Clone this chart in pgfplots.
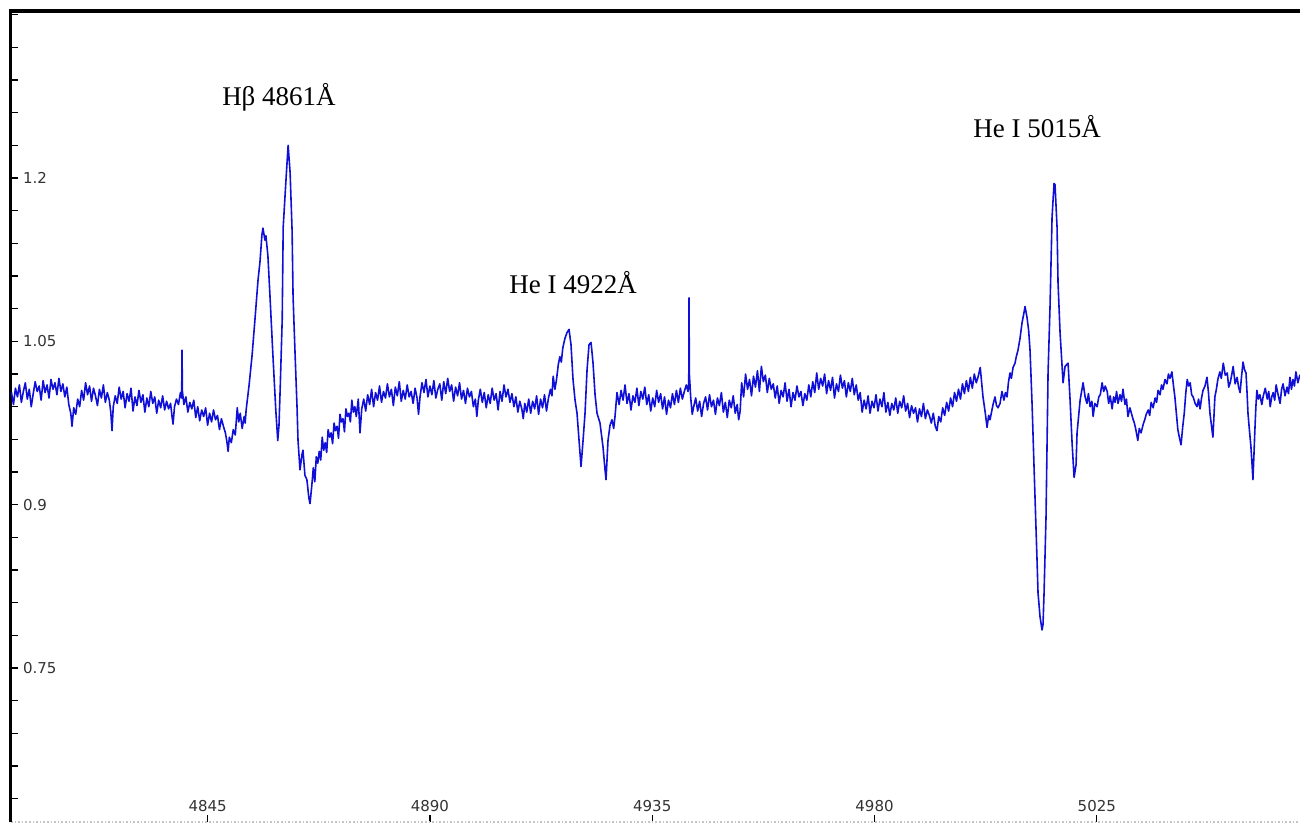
\documentclass[border=0pt]{standalone}
\usepackage{fontspec}
\setmainfont{DejaVu Sans}
\newfontfamily\annfont{Liberation Serif}
\usepackage{pgfplots}
\pgfplotsset{compat=1.18}
\definecolor{specblue}{RGB}{15,15,215}
\begin{document}
\begin{tikzpicture}
\begin{axis}[
  at={(5.5pt,1.5pt)}, anchor=south west,
  width=650pt, height=405.5pt, scale only axis,
  xmin=4805.2, xmax=5068.36, ymin=0.6086, ymax=1.3534,
  axis x line=bottom, axis y line=left,
  x axis line style={-, draw=gray!45, densely dotted, line width=0.8pt},
  y axis line style={-, draw=black, line width=1.5pt},
  tick align=inside,
  major tick length=3.5pt, minor tick length=3.5pt,
  tick style={black, line width=0.6pt},
  xtick={4845,4890,4935,4980,5025},
  xticklabels={4845,4890,4935,4980,5025},
  ytick={0.75,0.9,1.05,1.2},
  yticklabels={0.75,0.9,1.05,1.2},
  minor ytick={0.63,0.66,0.69,0.72,0.78,0.81,0.84,0.87,0.93,0.96,0.99,1.02,1.08,1.11,1.14,1.17,1.23,1.26,1.29,1.32,1.35},
  ticklabel style={font=\fontsize{7.5}{9}\selectfont, text=black!80},
  yticklabel style={anchor=west, xshift=2.5pt},
  xticklabel style={anchor=south, yshift=1.5pt},
  /pgf/number format/assume math mode=true,
  clip=false,
]
\addplot[specblue, line width=0.8pt, line join=round] table[row sep=\\] {
x y\\
4805.3 1.003\\ 4805.7 0.992\\ 4806.1 1.007\\ 4806.5 0.999\\ 4806.9 1.010\\ 4807.3 0.994\\
4807.7 1.004\\ 4808.1 1.012\\ 4808.5 0.997\\ 4808.9 1.006\\ 4809.3 0.990\\ 4809.7 1.002\\
4810.1 1.013\\ 4810.5 1.004\\ 4810.9 1.009\\ 4811.3 0.996\\ 4811.7 1.014\\ 4812.1 1.003\\
4812.5 1.010\\ 4812.9 0.998\\ 4813.3 1.015\\ 4813.7 1.006\\ 4814.1 1.012\\ 4814.5 1.001\\
4814.9 1.016\\ 4815.3 1.004\\ 4815.7 1.011\\ 4816.1 0.999\\ 4816.5 1.008\\ 4816.9 0.992\\
4817.3 0.984\\ 4817.55 0.972\\ 4817.9 0.989\\ 4818.3 0.983\\ 4818.7 0.997\\ 4819.1 0.990\\
4819.5 1.005\\ 4819.9 0.996\\ 4820.3 1.012\\ 4820.7 1.001\\ 4821.1 1.009\\ 4821.5 0.995\\
4821.9 1.007\\ 4822.3 1.000\\ 4822.7 0.991\\ 4823.1 1.006\\ 4823.5 0.998\\ 4823.9 1.010\\
4824.3 0.994\\ 4824.7 1.003\\ 4825.1 0.996\\ 4825.4 0.985\\ 4825.65 0.968\\ 4825.9 0.990\\
4826.3 1.000\\ 4826.7 0.993\\ 4827.1 1.008\\ 4827.5 0.997\\ 4827.9 1.004\\ 4828.3 0.989\\
4828.7 1.002\\ 4829.1 0.995\\ 4829.5 1.007\\ 4829.9 0.986\\ 4830.3 0.999\\ 4830.7 0.991\\
4831.1 1.005\\ 4831.5 0.994\\ 4831.9 1.001\\ 4832.3 0.985\\ 4832.7 0.998\\ 4833.1 0.990\\
4833.5 1.004\\ 4833.9 0.993\\ 4834.3 0.999\\ 4834.7 0.984\\ 4835.1 0.996\\ 4835.5 0.989\\
4835.9 1.000\\ 4836.3 0.987\\ 4836.7 0.995\\ 4837.1 0.988\\ 4837.5 0.993\\ 4837.8 0.981\\
4838.0 0.974\\ 4838.3 0.990\\ 4838.7 0.997\\ 4839.1 0.992\\ 4839.5 1.003\\ 4839.75 0.998\\
4839.82 1.042\\ 4839.9 1.004\\ 4840.2 0.992\\ 4840.6 0.999\\ 4841.0 0.985\\ 4841.4 0.994\\
4841.8 0.988\\ 4842.2 0.996\\ 4842.6 0.980\\ 4843.0 0.990\\ 4843.4 0.977\\ 4843.8 0.987\\
4844.2 0.981\\ 4844.6 0.989\\ 4845.0 0.973\\ 4845.4 0.984\\ 4845.8 0.976\\ 4846.2 0.987\\
4846.6 0.978\\ 4847.0 0.982\\ 4847.4 0.969\\ 4847.8 0.979\\ 4848.2 0.972\\ 4848.6 0.966\\
4848.9 0.958\\ 4849.15 0.949\\ 4849.4 0.962\\ 4849.8 0.957\\ 4850.2 0.969\\ 4850.6 0.964\\
4851.0 0.989\\ 4851.3 0.976\\ 4851.6 0.984\\ 4852.0 0.970\\ 4852.4 0.981\\ 4852.6 0.975\\
4852.8 0.987\\ 4853.4 1.010\\ 4854.0 1.037\\ 4854.6 1.071\\ 4855.2 1.106\\
4855.6 1.123\\ 4856.0 1.148\\ 4856.2 1.154\\ 4856.6 1.143\\ 4856.8 1.147\\ 4857.2 1.129\\
4857.6 1.094\\ 4858.2 1.039\\ 4858.8 0.987\\ 4859.2 0.959\\ 4859.45 0.973\\ 4859.7 1.008\\
4860.1 1.070\\ 4860.3 1.155\\ 4860.9 1.201\\ 4861.3 1.230\\ 4861.7 1.205\\ 4862.1 1.152\\
4862.3 1.091\\ 4862.7 1.039\\ 4863.1 0.990\\ 4863.3 0.959\\ 4863.7 0.932\\ 4864.1 0.946\\
4864.3 0.950\\ 4864.7 0.927\\ 4865.1 0.923\\ 4865.5 0.906\\ 4865.73 0.901\\
4866.1 0.918\\ 4866.4 0.934\\ 4866.7 0.921\\ 4867.0 0.944\\ 4867.3 0.938\\ 4867.6 0.949\\
4867.9 0.941\\ 4868.2 0.962\\ 4868.5 0.950\\ 4868.8 0.957\\ 4869.1 0.948\\ 4869.4 0.969\\
4869.7 0.962\\ 4870.0 0.966\\ 4870.3 0.956\\ 4870.6 0.975\\ 4870.9 0.968\\ 4871.2 0.972\\
4871.5 0.961\\ 4871.8 0.983\\ 4872.1 0.976\\ 4872.4 0.979\\ 4872.7 0.967\\ 4873.0 0.988\\
4873.3 0.981\\ 4873.6 0.984\\ 4873.9 0.976\\ 4874.2 0.996\\ 4874.5 0.985\\ 4874.8 0.990\\
4875.1 0.981\\ 4875.5 0.997\\ 4875.85 0.966\\ 4876.2 0.988\\
4876.6 0.997\\ 4877.0 0.986\\ 4877.4 1.001\\ 4877.8 0.992\\ 4878.2 1.006\\ 4878.6 0.990\\
4879.0 1.003\\ 4879.4 0.996\\ 4879.8 1.009\\ 4880.2 0.994\\ 4880.6 1.004\\ 4881.0 0.998\\
4881.4 1.011\\ 4881.8 0.999\\ 4882.2 1.006\\ 4882.6 0.991\\ 4883.0 1.008\\ 4883.4 1.000\\
4883.8 1.013\\ 4884.2 0.995\\ 4884.6 1.005\\ 4885.0 0.997\\ 4885.4 1.010\\ 4885.8 0.999\\
4886.2 1.004\\ 4886.6 0.993\\ 4887.0 1.007\\ 4887.4 0.998\\ 4887.7 0.983\\ 4888.0 0.999\\
4888.4 1.012\\ 4888.8 1.003\\ 4889.2 1.015\\ 4889.6 0.999\\ 4890.0 1.009\\ 4890.4 1.001\\
4890.8 1.014\\ 4891.2 0.998\\ 4891.6 1.006\\ 4892.0 1.011\\ 4892.4 0.996\\ 4892.8 1.013\\
4893.2 1.002\\ 4893.6 1.016\\ 4894.0 1.004\\ 4894.4 1.010\\ 4894.8 0.995\\ 4895.2 1.008\\
4895.6 1.000\\ 4896.0 1.012\\ 4896.4 0.997\\ 4896.8 1.005\\ 4897.2 0.993\\ 4897.6 1.007\\
4898.0 0.999\\ 4898.4 1.004\\ 4898.8 0.990\\ 4899.2 0.997\\ 4899.5 0.981\\ 4899.8 0.996\\
4900.2 1.006\\ 4900.6 0.994\\ 4901.0 1.003\\ 4901.4 0.989\\ 4901.8 1.001\\ 4902.2 0.993\\
4902.6 1.007\\ 4903.0 0.996\\ 4903.4 1.002\\ 4903.8 0.987\\ 4904.2 1.004\\ 4904.6 0.995\\
4905.0 1.010\\ 4905.4 0.999\\ 4905.8 1.006\\ 4906.2 0.994\\ 4906.6 1.002\\ 4907.0 0.990\\
4907.4 0.999\\ 4907.8 0.985\\ 4908.2 0.995\\ 4908.6 0.988\\ 4908.9 0.979\\ 4909.2 0.993\\
4909.6 0.985\\ 4910.0 0.997\\ 4910.4 0.984\\ 4910.8 0.995\\ 4911.2 0.988\\ 4911.6 1.000\\
4912.0 0.983\\ 4912.4 0.997\\ 4912.8 0.989\\ 4913.2 1.001\\ 4913.6 0.986\\ 4914.0 0.998\\
4914.4 1.006\\ 4914.7 1.000\\
4914.95 1.018\\ 4915.3 1.006\\ 4915.6 1.014\\ 4916.0 1.029\\ 4916.3 1.036\\ 4916.6 1.031\\
4916.9 1.044\\ 4917.35 1.053\\ 4917.75 1.058\\
4918.16 1.061\\ 4918.56 1.047\\ 4918.97 1.015\\ 4919.38 0.996\\ 4919.78 0.984\\ 4920.19 0.959\\
4920.59 0.935\\ 4921.0 0.959\\ 4921.4 0.984\\ 4921.81 1.024\\ 4922.21 1.047\\ 4922.62 1.049\\
4923.02 1.030\\ 4923.43 1.001\\ 4923.83 0.984\\ 4924.23 0.978\\ 4924.43 0.975\\ 4925.04 0.953\\
4925.45 0.932\\ 4925.65 0.923\\ 4926.05 0.959\\ 4926.46 0.973\\ 4926.86 0.978\\ 4927.2 0.970\\
4927.47 0.981\\ 4927.87 1.003\\
4928.3 0.992\\ 4928.7 1.005\\ 4929.1 0.996\\ 4929.5 1.010\\ 4929.9 0.993\\ 4930.3 1.002\\
4930.7 0.987\\ 4931.1 1.000\\ 4931.5 0.994\\ 4931.9 1.007\\ 4932.3 0.991\\ 4932.7 1.004\\
4933.1 0.997\\ 4933.5 1.008\\ 4933.9 0.992\\ 4934.3 1.001\\ 4934.7 0.986\\ 4935.1 0.998\\
4935.5 0.990\\ 4935.9 1.005\\ 4936.3 0.994\\ 4936.7 1.002\\ 4937.1 0.988\\ 4937.5 0.999\\
4937.9 0.983\\ 4938.3 0.996\\ 4938.7 0.989\\ 4939.1 1.002\\ 4939.5 0.992\\ 4939.9 1.005\\
4940.3 0.994\\ 4940.7 1.007\\ 4941.1 0.997\\ 4941.5 1.004\\ 4941.9 1.010\\ 4942.25 1.004\\
4942.40 1.012\\ 4942.45 1.090\\ 4942.52 1.020\\ 4942.8 0.998\\ 4943.1 0.983\\ 4943.4 0.990\\
4943.8 0.998\\ 4944.2 0.986\\ 4944.6 0.995\\ 4945.0 0.981\\ 4945.4 0.993\\ 4945.8 0.999\\
4946.2 0.987\\ 4946.6 1.001\\ 4947.0 0.990\\ 4947.4 0.996\\ 4947.8 0.983\\ 4948.2 0.998\\
4948.6 0.991\\ 4949.0 1.003\\ 4949.4 0.985\\ 4949.8 0.994\\ 4950.2 0.980\\ 4950.6 0.996\\
4951.0 0.989\\ 4951.4 1.000\\ 4951.8 0.984\\ 4952.2 0.992\\ 4952.5 0.978\\ 4952.8 0.986\\
4953.1 1.012\\ 4953.5 0.999\\ 4953.9 1.020\\ 4954.3 1.006\\ 4954.7 1.015\\ 4955.1 1.000\\
4955.5 1.018\\ 4955.9 1.008\\ 4956.3 1.023\\ 4956.7 1.004\\ 4957.1 1.027\\ 4957.5 1.013\\
4957.9 1.019\\ 4958.3 1.003\\ 4958.7 1.016\\ 4959.1 1.006\\ 4959.5 1.011\\ 4959.9 0.998\\
4960.3 1.009\\ 4960.7 0.993\\ 4961.1 1.005\\ 4961.5 0.999\\ 4961.9 1.012\\ 4962.3 0.995\\
4962.7 1.006\\ 4963.1 0.990\\ 4963.5 1.003\\ 4963.9 0.996\\ 4964.3 1.009\\ 4964.7 0.999\\
4965.1 1.004\\ 4965.5 0.991\\ 4965.9 1.002\\ 4966.3 0.996\\ 4966.7 1.010\\ 4967.1 0.999\\
4967.5 1.013\\ 4967.9 1.003\\ 4968.3 1.021\\ 4968.7 1.006\\ 4969.1 1.016\\ 4969.5 1.009\\
4969.9 1.020\\ 4970.3 1.002\\ 4970.7 1.014\\ 4971.1 1.005\\ 4971.5 1.017\\ 4971.9 0.998\\
4972.3 1.011\\ 4972.7 1.004\\ 4973.1 1.019\\ 4973.5 1.007\\ 4973.9 1.014\\ 4974.3 0.999\\
4974.7 1.012\\ 4975.1 1.004\\ 4975.5 1.016\\ 4975.9 1.001\\ 4976.3 1.010\\ 4976.7 0.996\\
4977.1 1.003\\ 4977.5 0.985\\ 4977.9 0.996\\ 4978.3 0.988\\ 4978.7 1.000\\ 4979.1 0.984\\
4979.5 0.995\\ 4979.9 0.989\\ 4980.3 1.001\\ 4980.7 0.986\\ 4981.1 0.997\\ 4981.5 0.990\\
4981.9 1.003\\ 4982.3 0.985\\ 4982.7 0.994\\ 4983.1 0.982\\ 4983.5 0.993\\ 4983.9 0.987\\
4984.3 0.998\\ 4984.7 0.984\\ 4985.1 0.995\\ 4985.5 0.989\\ 4985.9 1.000\\ 4986.3 0.986\\
4986.7 0.993\\ 4987.1 0.980\\ 4987.5 0.991\\ 4987.9 0.984\\ 4988.3 0.989\\ 4988.7 0.976\\
4989.1 0.988\\ 4989.5 0.981\\ 4989.9 0.993\\ 4990.3 0.979\\ 4990.7 0.987\\ 4991.1 0.982\\
4991.5 0.975\\ 4991.9 0.984\\ 4992.3 0.972\\ 4992.65 0.968\\ 4993.0 0.981\\ 4993.4 0.976\\
4993.8 0.989\\ 4994.2 0.982\\ 4994.6 0.994\\ 4995.0 0.986\\ 4995.4 0.998\\ 4995.8 0.990\\
4996.2 1.003\\ 4996.6 0.995\\ 4997.0 1.006\\ 4997.4 0.997\\ 4997.8 1.011\\ 4998.2 1.002\\
4998.6 1.014\\ 4999.0 1.004\\ 4999.4 1.017\\ 4999.8 1.007\\ 5000.2 1.020\\ 5000.6 1.012\\
5001.0 1.018\\ 5001.4 1.026\\
5001.96 0.999\\ 5002.4 0.985\\ 5002.78 0.971\\ 5003.1 0.982\\ 5003.38 0.978\\ 5003.99 0.992\\
5004.39 0.999\\ 5004.7 0.991\\ 5005.0 0.989\\ 5005.41 0.993\\ 5005.8 1.004\\ 5006.2 0.996\\
5006.5 1.003\\ 5006.83 0.999\\ 5007.1 1.012\\ 5007.43 1.021\\ 5007.7 1.016\\ 5008.04 1.026\\
5008.44 1.030\\ 5008.7 1.036\\ 5009.05 1.042\\ 5009.46 1.053\\ 5009.86 1.067\\ 5010.2 1.075\\
5010.47 1.082\\ 5010.87 1.072\\ 5011.2 1.060\\ 5011.48 1.042\\
5011.89 0.993\\ 5012.29 0.935\\ 5012.70 0.877\\ 5012.90 0.849\\ 5013.10 0.819\\ 5013.51 0.797\\
5013.91 0.785\\ 5014.11 0.790\\ 5014.32 0.819\\ 5014.72 0.889\\ 5014.93 0.957\\ 5015.13 1.021\\
5015.53 1.082\\ 5015.94 1.164\\ 5016.34 1.195\\ 5016.54 1.194\\ 5016.95 1.155\\ 5017.15 1.104\\
5017.56 1.058\\ 5018.17 1.012\\ 5018.57 1.027\\ 5019.18 1.030\\ 5019.59 0.996\\ 5019.99 0.957\\
5020.40 0.925\\ 5020.8 0.937\\ 5021.0 0.966\\ 5021.62 0.996\\ 5022.22 1.012\\
5022.63 0.999\\ 5023.0 0.993\\ 5023.3 1.002\\ 5023.64 0.990\\ 5024.0 0.995\\ 5024.25 0.981\\
5024.6 0.993\\ 5025.06 0.990\\ 5025.4 0.999\\ 5025.7 1.001\\ 5026.07 1.012\\ 5026.4 1.004\\
5026.7 1.009\\ 5027.1 1.004\\ 5027.4 0.993\\ 5027.7 1.000\\ 5028.1 0.988\\ 5028.4 0.999\\
5028.7 0.994\\ 5029.0 1.004\\ 5029.3 0.993\\ 5029.7 1.001\\ 5030.0 0.995\\ 5030.3 1.006\\
5030.7 0.992\\ 5031.0 0.997\\ 5031.3 0.981\\ 5031.7 0.989\\ 5032.0 0.984\\ 5032.3 0.979\\
5032.6 0.975\\ 5032.9 0.969\\ 5033.3 0.959\\ 5033.6 0.970\\ 5033.96 0.966\\ 5034.4 0.974\\
5034.7 0.978\\ 5035.0 0.983\\ 5035.4 0.987\\ 5035.7 0.982\\ 5036.0 0.994\\ 5036.4 0.989\\
5036.8 0.998\\ 5037.1 0.994\\ 5037.4 1.005\\ 5037.8 1.001\\ 5038.1 1.010\\ 5038.4 1.006\\
5038.8 1.015\\ 5039.2 1.011\\ 5039.5 1.020\\ 5039.8 1.016\\ 5040.2 1.022\\ 5040.5 1.010\\
5040.8 0.999\\ 5041.1 0.984\\ 5041.4 0.969\\ 5041.7 0.962\\ 5042.05 0.955\\ 5042.4 0.972\\
5042.7 0.984\\ 5043.0 1.002\\ 5043.3 1.015\\ 5043.6 1.009\\ 5043.9 1.012\\ 5044.2 1.001\\
5044.5 0.999\\ 5044.9 0.993\\ 5045.3 0.990\\ 5045.6 0.997\\ 5045.9 0.988\\ 5046.2 0.998\\
5046.5 1.005\\ 5046.9 1.009\\ 5047.3 1.017\\ 5047.6 1.003\\ 5047.9 0.984\\ 5048.2 0.973\\
5048.5 0.962\\ 5048.7 0.980\\ 5048.9 0.999\\ 5049.2 1.006\\ 5049.5 1.015\\ 5049.9 1.022\\
5050.2 1.016\\ 5050.6 1.030\\ 5051.0 1.019\\ 5051.4 1.021\\ 5051.7 1.008\\ 5052.0 1.012\\
5052.3 1.019\\ 5052.6 1.027\\ 5053.0 1.011\\ 5053.4 1.017\\ 5053.7 1.008\\ 5054.0 1.003\\
5054.3 1.018\\ 5054.6 1.031\\ 5054.9 1.024\\ 5055.2 1.021\\ 5055.4 1.004\\ 5055.6 0.984\\
5055.9 0.968\\ 5056.2 0.953\\ 5056.45 0.935\\ 5056.6 0.923\\ 5056.8 0.945\\ 5057.0 0.969\\
5057.2 0.990\\ 5057.4 1.005\\ 5057.7 0.997\\ 5058.0 1.001\\ 5058.4 0.992\\ 5058.7 1.000\\
5059.1 1.007\\ 5059.5 0.997\\ 5059.8 1.004\\ 5060.1 0.990\\ 5060.4 0.999\\ 5060.7 1.003\\
5061.0 0.996\\ 5061.3 1.010\\ 5061.7 1.001\\ 5062.1 0.993\\ 5062.4 1.006\\ 5062.7 1.011\\
5063.1 1.000\\ 5063.5 1.008\\ 5063.8 1.002\\ 5064.1 1.017\\ 5064.4 1.006\\ 5064.7 1.015\\
5065.0 1.009\\ 5065.3 1.022\\ 5065.7 1.012\\ 5066.1 1.019\\ 5066.6 1.011\\ 5067.2 1.020\\
5068.4 1.014\\
};
\node[font=\annfont\fontsize{13.5}{16}\selectfont] at (axis cs:4859.45,1.2744) {Hβ 4861Å};
\node[font=\annfont\fontsize{13.5}{16}\selectfont] at (axis cs:4918.97,1.1036) {He I 4922Å};
\node[font=\annfont\fontsize{13.5}{16}\selectfont] at (axis cs:5012.90,1.2469) {He I 5015Å};
\draw[black, line width=1.6pt] ([xshift=-0.75pt]rel axis cs:0,1) -- (rel axis cs:1.02,1);
\end{axis}
\pgfresetboundingbox
\useasboundingbox (0,0) rectangle (650pt,412.5pt);
\end{tikzpicture}
\end{document}
